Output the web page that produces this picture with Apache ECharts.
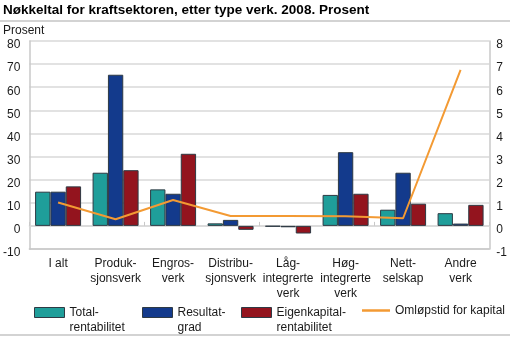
<!DOCTYPE html>
<html>
<head>
<meta charset="utf-8">
<script src="https://cdn.jsdelivr.net/npm/echarts@6/dist/echarts.min.js"></script>
<style>
  html, body { margin: 0; padding: 0; background: #fff; }
  #chart { width: 510px; height: 337px; }
</style>
</head>
<body>
<div id="chart"></div>
<script>
// Categories (type of power company), with manual line breaks
const categories = [
  'I alt', 'Produk-\nsjonsverk', 'Engros-\nverk', 'Distribu-\nsjonsverk',
  'Låg-\nintegrerte\nverk', 'Høg-\nintegrerte\nverk', 'Nett-\nselskap', 'Andre\nverk'
];

// Percent values (left axis)
const totalrentabilitet = [14.8, 23.0, 15.8, 1.1, -0.3, 13.4, 7.0, 5.5];
const resultatgrad = [14.8, 65.4, 13.9, 2.6, -0.6, 31.9, 23.0, 1.0];
const eigenkapitalrentabilitet = [17.1, 24.1, 31.2, -1.7, -3.3, 13.9, 9.6, 9.1];

// Capital turnover (right axis)
const omlopstid = [1.01, 0.29, 1.12, 0.43, 0.43, 0.42, 0.33, 6.75];

// Axis ticks
const leftTicks = { min: -10, max: 80, interval: 10 };
const rightTicks = { min: -1, max: 8, interval: 1 };

const names = ['Total-\nrentabilitet', 'Resultat-\ngrad', 'Eigenkapital-\nrentabilitet', 'Omløpstid for kapital'];
const colors = ['#1f9e9a', '#133a8c', '#93141e', '#f39a33'];

const font = "'Liberation Sans', Arial, sans-serif";
const textColor = '#1a1a1a';
const gridColor = '#d9d9d9';
const boxColor = '#c8c8c8';

const chart = echarts.init(document.getElementById('chart'), null, { renderer: 'canvas' });

function barSeries(name, data, color) {
  return {
    name: name,
    type: 'bar',
    yAxisIndex: 0,
    data: data,
    barGap: '0%',
    barCategoryGap: '20%',
    itemStyle: { color: color, borderColor: '#2e3a44', borderWidth: 1 },
    emphasis: { disabled: true }
  };
}

// Two-line legend entries: a blank first line keeps the swatch level with the first text line
function legendFor(idx, left, top, isLine) {
  return {
    data: [{ name: names[idx], icon: 'rect' }],
    left: left,
    top: top,
    padding: 0,
    itemWidth: isLine ? 28 : 30,
    itemHeight: isLine ? 2.5 : 10,
    itemGap: 0,
    selectedMode: false,
    itemStyle: isLine ? { color: colors[idx], borderWidth: 0 } : { borderColor: '#2e3a44', borderWidth: 1 },
    formatter: function (n) { return isLine ? n : ' \n' + n; },
    textStyle: {
      fontFamily: font, fontSize: 12, color: textColor, lineHeight: 15
    }
  };
}

// Value labels sit a little below their grid line
function valueLabel(margin) {
  return {
    margin: margin,
    formatter: function (v) { return '{v|' + v + '}'; },
    rich: { v: { padding: [8, 0, 0, 0], fontFamily: font, fontSize: 12, color: textColor } }
  };
}

chart.setOption({
  animation: false,
  textStyle: { fontFamily: font },
  title: {
    text: 'Nøkkeltal for kraftsektoren, etter type verk. 2008. Prosent',
    left: 3, top: 3, padding: 0,
    textStyle: { fontFamily: font, fontSize: 13.5, fontWeight: 'bold', color: '#000' }
  },
  graphic: [
    { type: 'line', shape: { x1: 0, y1: 21, x2: 510, y2: 21 }, style: { stroke: '#c4c4c4', lineWidth: 1.5 } },
    { type: 'line', shape: { x1: 0, y1: 335, x2: 510, y2: 335 }, style: { stroke: '#c4c4c4', lineWidth: 1.5 } },
    { type: 'text', left: 3, top: 25, style: { text: 'Prosent', fontFamily: font, fontSize: 12, fill: textColor } }
  ],
  grid: { left: 25, right: 20, top: 41, bottom: 88, containLabel: false },
  legend: [
    legendFor(0, 34, 290, false),
    legendFor(1, 142, 290, false),
    legendFor(2, 241, 290, false),
    legendFor(3, 362, 303, true)
  ],
  xAxis: [
    {
      type: 'category',
      data: categories,
      position: 'bottom',
      axisLine: { onZero: false, lineStyle: { color: boxColor, width: 1.5 } },
      axisTick: { show: false },
      axisLabel: {
        interval: 0, margin: 7, fontFamily: font, fontSize: 12,
        color: textColor, lineHeight: 15
      },
      splitLine: { show: false }
    },
    {
      type: 'category',
      data: categories,
      position: 'bottom',
      axisLine: { show: true, onZero: true, lineStyle: { color: gridColor, width: 1.5 } },
      axisTick: { show: true, inside: true, length: 4, lineStyle: { color: boxColor, width: 1 } },
      axisLabel: { show: false },
      splitLine: { show: false }
    }
  ],
  yAxis: [
    {
      type: 'value',
      min: leftTicks.min, max: leftTicks.max, interval: leftTicks.interval,
      position: 'left',
      axisLine: { show: true, lineStyle: { color: boxColor, width: 1.5 } },
      axisTick: { show: false },
      axisLabel: valueLabel(9),
      splitLine: { show: true, lineStyle: { color: gridColor, width: 1.5 } }
    },
    {
      type: 'value',
      min: rightTicks.min, max: rightTicks.max, interval: rightTicks.interval,
      position: 'right',
      axisLine: { show: true, lineStyle: { color: boxColor, width: 1.5 } },
      axisTick: { show: false },
      axisLabel: valueLabel(7),
      splitLine: { show: false }
    }
  ],
  series: [
    barSeries(names[0], totalrentabilitet, colors[0]),
    barSeries(names[1], resultatgrad, colors[1]),
    barSeries(names[2], eigenkapitalrentabilitet, colors[2]),
    {
      name: names[3],
      type: 'line',
      yAxisIndex: 1,
      data: omlopstid,
      symbol: 'none',
      lineStyle: { color: colors[3], width: 2 },
      itemStyle: { color: colors[3] },
      z: 5,
      emphasis: { disabled: true }
    }
  ]
});
</script>
</body>
</html>
